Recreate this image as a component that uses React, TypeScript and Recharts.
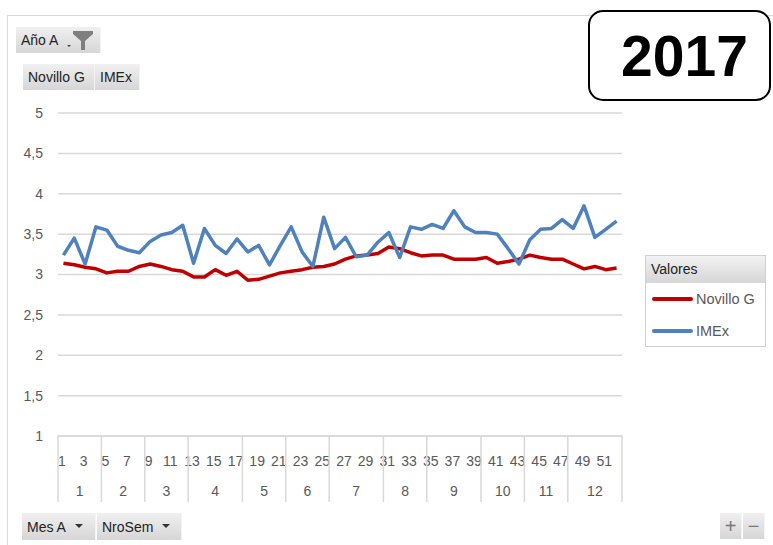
import React from 'react';
import { LineChart, Line, XAxis, YAxis, CartesianGrid, Legend } from 'recharts';

// semanas del año (NroSem) y meses (Mes A)
const SEMANAS = [
  1, 2, 3, 4, 5, 6, 7, 8, 9, 10, 11, 12, 13, 14, 15, 16, 17, 18, 19, 20, 21, 22, 23, 24, 25, 26,
  27, 28, 29, 30, 31, 32, 33, 34, 35, 36, 37, 38, 39, 40, 41, 42, 43, 44, 45, 46, 47, 48, 49, 50, 51, 52,
];
const MESES = [1, 2, 3, 4, 5, 6, 7, 8, 9, 10, 11, 12];
const SEMANAS_POR_MES = [4, 4, 4, 5, 4, 4, 5, 4, 5, 4, 4, 5];

const NOVILLO_G = [
  3.14, 3.12, 3.09, 3.07, 3.02, 3.04, 3.04, 3.1, 3.13, 3.1, 3.06, 3.04, 2.97, 2.97, 3.06, 2.99, 3.04,
  2.93, 2.94, 2.98, 3.02, 3.04, 3.06, 3.09, 3.1, 3.13, 3.19, 3.23, 3.24, 3.26, 3.34, 3.32, 3.27, 3.23,
  3.24, 3.24, 3.19, 3.19, 3.19, 3.21, 3.14, 3.16, 3.19, 3.24, 3.21, 3.19, 3.19, 3.13, 3.07, 3.1, 3.06, 3.08,
];
const IMEX = [
  3.24, 3.45, 3.13, 3.59, 3.55, 3.35, 3.3, 3.27, 3.41, 3.49, 3.52, 3.61, 3.14, 3.57, 3.36, 3.26, 3.44,
  3.28, 3.36, 3.12, 3.36, 3.59, 3.28, 3.1, 3.71, 3.32, 3.46, 3.22, 3.24, 3.4, 3.52, 3.21, 3.59, 3.56,
  3.62, 3.57, 3.79, 3.59, 3.52, 3.52, 3.5, 3.32, 3.13, 3.43, 3.56, 3.57, 3.68, 3.57, 3.85, 3.46, 3.56, 3.66,
];
const Y_TICKS = [1, 1.5, 2, 2.5, 3, 3.5, 4, 4.5, 5];

const SERIES = [
  { key: 'novillo', name: 'Novillo G', color: '#C00000' },
  { key: 'imex', name: 'IMEx', color: '#4F81BD' },
];

// tabla para recharts
const DATA = (() => {
  const rows: any[] = [];
  let i = 0;
  MESES.forEach((mes, m) => {
    const n = SEMANAS_POR_MES[m];
    for (let k = 0; k < n; k++) {
      rows.push({
        sem: SEMANAS[i],
        mes,
        n,
        first: k === 0,
        last: i === SEMANAS.length - 1,
        novillo: NOVILLO_G[i],
        imex: IMEX[i],
      });
      i++;
    }
  });
  return rows;
})();

const W = 773;
const H = 545;
const MARGIN = { top: 113, right: 151, bottom: 40, left: 13 };
const Y_W = 45;
const PLOT_W = W - MARGIN.left - Y_W - MARGIN.right;
const BW = PLOT_W / SEMANAS.length;
const FONT = '"Liberation Sans", Arial, sans-serif';
const GRID = '#d9d9d9';
const TXT = '#595959';

function SemanaTick(props: any) {
  const { x, y, index } = props;
  const row = DATA[index];
  if (!row) return null;
  const left = x - BW / 2;
  return (
    <g>
      {row.sem % 2 === 1 && (
        <text x={x - 1.5} y={y + 30} textAnchor="middle" fill={TXT} fontSize={14}>
          {row.sem}
        </text>
      )}
      {row.first && <line x1={left} x2={left} y1={y} y2={y + 66} stroke={GRID} strokeWidth={1.5} />}
      {row.first && (
        <text x={left + (row.n * BW) / 2} y={y + 60} textAnchor="middle" fill={TXT} fontSize={14}>
          {row.mes}
        </text>
      )}
      {row.last && (
        <line x1={x + BW / 2} x2={x + BW / 2} y1={y} y2={y + 66} stroke={GRID} strokeWidth={1.5} />
      )}
    </g>
  );
}

// leyenda en el orden de las series
const LegendBox = ({ payload }: any) => {
  const items = SERIES.map((s) => (payload || []).find((p: any) => p.value === s.name)).filter(Boolean);
  return (
    <div
      style={{
        width: 121,
        height: 92,
        border: '1px solid #d0d0d0',
        background: '#fff',
        fontFamily: FONT,
        boxSizing: 'border-box',
      }}
    >
      <div
        style={{
          height: 27,
          background: 'linear-gradient(#f2f2f2, #d6d6d6)',
          fontSize: 14,
          color: '#222',
          padding: '5px 0 0 5px',
          boxSizing: 'border-box',
        }}
      >
        Valores
      </div>
      {items.map((p: any) => (
        <div key={p.value} style={{ display: 'flex', alignItems: 'center', height: 32, paddingLeft: 6 }}>
          <span style={{ width: 41, height: 4, borderRadius: 2, background: p.color, display: 'inline-block' }} />
          <span style={{ fontSize: 14.5, color: TXT, marginLeft: 3 }}>{p.value}</span>
        </div>
      ))}
    </div>
  );
};

const btn: React.CSSProperties = {
  position: 'absolute',
  background: 'linear-gradient(#f0f0f0, #d6d6d6)',
  borderRight: '1px solid #f4f4f4',
  fontSize: 14,
  color: '#222',
  fontFamily: FONT,
  display: 'flex',
  alignItems: 'center',
  boxSizing: 'border-box',
  paddingLeft: 5,
};

const Caret = () => (
  <svg width={8} height={5} style={{ marginLeft: 9 }}>
    <path d="M0 0 L8 0 L4 4 Z" fill="#333" />
  </svg>
);

export default function App() {
  return (
    <div style={{ position: 'absolute', left: 0, top: 0, width: W, height: H, background: '#fff', overflow: 'hidden' }}>
      <div style={{ position: 'absolute', left: 7, top: 15, width: 900, height: 700, border: '1.5px solid #d9d9d9' }} />
      <div style={{ position: 'absolute', left: 0, top: 0 }}>
        <LineChart width={W} height={H} data={DATA} margin={MARGIN} style={{ fontFamily: FONT }}>
          <CartesianGrid vertical={false} stroke={GRID} strokeWidth={1.5} />
          <XAxis
            dataKey="sem"
            interval={0}
            height={H - MARGIN.top - MARGIN.bottom - 323}
            padding={{ left: BW / 2, right: BW / 2 }}
            axisLine={{ stroke: GRID, strokeWidth: 1.5 }}
            tickLine={false}
            tickSize={0}
            tickMargin={0}
            tick={<SemanaTick />}
          />
          <YAxis
            width={Y_W}
            domain={[1, 5]}
            ticks={Y_TICKS}
            axisLine={false}
            tickLine={false}
            tickSize={0}
            tickMargin={15}
            tick={{ fill: TXT, fontSize: 14 }}
            tickFormatter={(v: number) => String(v).replace('.', ',')}
          />
          {SERIES.map((s) => (
            <Line
              key={s.key}
              dataKey={s.key}
              name={s.name}
              stroke={s.color}
              strokeWidth={3.5}
              strokeLinejoin="round"
              dot={false}
              activeDot={false}
              type="linear"
              isAnimationActive={false}
            />
          ))}
          <Legend
            layout="horizontal"
            align="center"
            verticalAlign="middle"
            content={<LegendBox />}
            wrapperStyle={{ position: 'absolute', left: 645, top: 255, width: 121, height: 92 }}
          />
        </LineChart>
      </div>

      {/* filtro Año */}
      <div style={{ ...btn, left: 16, top: 27, width: 85, height: 26 }}>
        Año A
        <svg width={32} height={22} style={{ marginLeft: 4 }}>
          <path d="M5 16 L9 16 L7 18 Z" fill="#444" />
          <path d="M11 2 L31 2 L31 5 L23 12 L23 21 L19 21 L19 12 L11 5 Z" fill="#7f7f7f" />
        </svg>
      </div>

      {/* campos de valores */}
      <div style={{ ...btn, left: 23, top: 64, width: 72, height: 26 }}>Novillo G</div>
      <div style={{ ...btn, left: 95, top: 64, width: 45, height: 26 }}>IMEx</div>

      {/* campos de eje */}
      <div style={{ ...btn, left: 22, top: 513, width: 74, height: 27 }}>
        Mes A
        <Caret />
      </div>
      <div style={{ ...btn, left: 97, top: 513, width: 85, height: 27 }}>
        NroSem
        <Caret />
      </div>

      {/* zoom */}
      <div style={{ ...btn, left: 720, top: 513, width: 22, height: 26, paddingLeft: 0, justifyContent: 'center', fontSize: 20, color: '#777' }}>+</div>
      <div style={{ ...btn, left: 743, top: 513, width: 22, height: 26, paddingLeft: 0, justifyContent: 'center', fontSize: 20, color: '#777' }}>−</div>

      {/* año */}
      <div
        style={{
          position: 'absolute',
          left: 588,
          top: 10,
          width: 183,
          height: 91,
          border: '2px solid #000',
          borderRadius: 15,
          background: '#fff',
          boxSizing: 'border-box',
          display: 'flex',
          alignItems: 'center',
          justifyContent: 'center',
          paddingLeft: 10,
          fontFamily: FONT,
          fontWeight: 'bold',
          fontSize: 57,
          color: '#000',
        }}
      >
        2017
      </div>
    </div>
  );
}
